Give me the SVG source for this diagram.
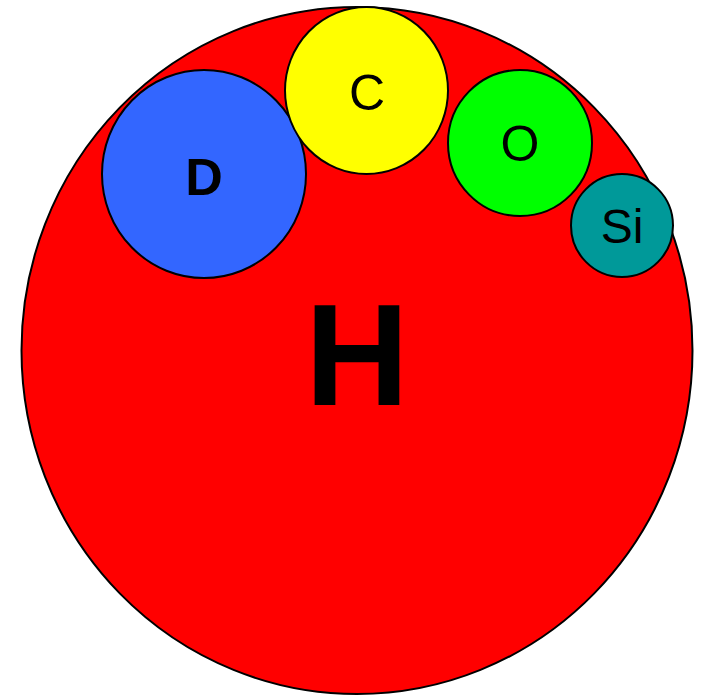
<svg xmlns="http://www.w3.org/2000/svg" width="706" height="697" viewBox="0 0 706 697">
<style>
.n{stroke:#000;stroke-width:2}
.t{font-family:"Liberation Sans",Arial,sans-serif;text-anchor:middle;fill:#000}
</style>
<rect width="706" height="697" fill="#fff"/>
<g id="H"><ellipse class="n" cx="357" cy="350.5" rx="335.5" ry="343.5" fill="#FF0000"/><text class="t" x="357" y="405" font-size="144" font-weight="bold">H</text></g>
<g id="D"><ellipse class="n" cx="204" cy="174" rx="102" ry="104" fill="#3366FF"/><text class="t" x="204" y="195" font-size="52" font-weight="bold">D</text></g>
<g id="C"><ellipse class="n" cx="366.5" cy="90.5" rx="81.5" ry="83.5" fill="#FFFF00"/><text class="t" x="367" y="110" font-size="50">C</text></g>
<g id="O"><ellipse class="n" cx="520" cy="143" rx="72" ry="73" fill="#00FF00"/><text class="t" x="520" y="161" font-size="50">O</text></g>
<g id="Si"><ellipse class="n" cx="622" cy="225.5" rx="51" ry="51.5" fill="#009999"/><text class="t" x="622" y="243" font-size="48">Si</text></g>
<g id="connectors"/>
</svg>
